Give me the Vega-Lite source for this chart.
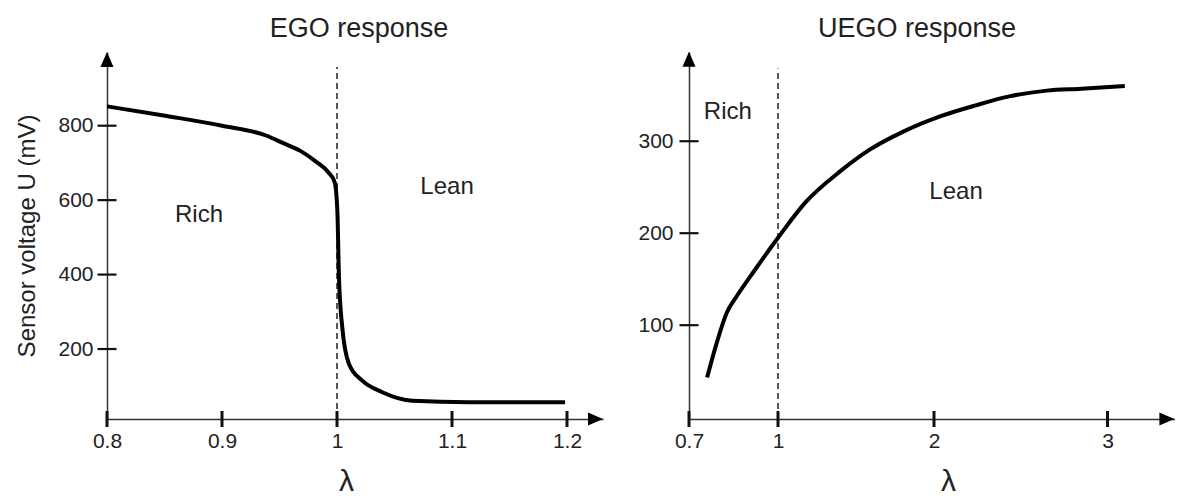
{
  "$schema": "https://vega.github.io/schema/vega-lite/v6.json",
  "background": "white",
  "padding": {"left": 15, "top": 14, "right": 0, "bottom": 0},
  "spacing": 33,
  "datasets": {
    "ego": [
      {"lam": 0.8, "u": 852},
      {"lam": 0.852, "u": 826},
      {"lam": 0.9, "u": 800},
      {"lam": 0.9389, "u": 773},
      {"lam": 0.9533, "u": 753},
      {"lam": 0.9678, "u": 733},
      {"lam": 0.9823, "u": 702},
      {"lam": 0.9924, "u": 675},
      {"lam": 0.998, "u": 648},
      {"lam": 1.0003, "u": 572},
      {"lam": 1.0017, "u": 393},
      {"lam": 1.0046, "u": 258},
      {"lam": 1.0104, "u": 160},
      {"lam": 1.022, "u": 115},
      {"lam": 1.0394, "u": 84},
      {"lam": 1.0655, "u": 61},
      {"lam": 1.1148, "u": 57},
      {"lam": 1.1983, "u": 57}
    ],
    "uego": [
      {"lam": 0.761, "u": 43},
      {"lam": 0.791, "u": 78},
      {"lam": 0.828, "u": 114},
      {"lam": 0.862, "u": 132},
      {"lam": 0.922, "u": 160},
      {"lam": 1.0, "u": 195},
      {"lam": 1.173, "u": 233},
      {"lam": 1.404, "u": 268},
      {"lam": 1.58, "u": 290},
      {"lam": 1.81, "u": 311},
      {"lam": 2.035, "u": 327},
      {"lam": 2.24, "u": 339},
      {"lam": 2.44, "u": 349},
      {"lam": 2.65, "u": 355},
      {"lam": 2.85, "u": 357},
      {"lam": 3.1, "u": 360}
    ]
  },
  "hconcat": [
    {
      "width": 496,
      "height": 367,
      "title": {"text": "EGO response", "dx": 4},
      "layer": [
        {
          "data": {"values": [{"lam": 1, "u": 12, "u2": 958}]},
          "mark": {"type": "rule", "strokeDash": [6, 4], "strokeWidth": 1.5, "color": "#222"},
          "encoding": {
            "x": {"field": "lam", "type": "quantitative"},
            "y": {"field": "u", "type": "quantitative"},
            "y2": {"field": "u2"}
          }
        },
        {
          "data": {"name": "ego"},
          "mark": {"type": "line", "interpolate": "monotone", "strokeWidth": 4, "color": "#000"},
          "encoding": {
            "x": {
              "field": "lam", "type": "quantitative", "title": "λ",
              "scale": {"domain": [0.8, 1.2313], "nice": false, "zero": false},
              "axis": {"values": [0.8, 0.9, 1, 1.1, 1.2], "format": "~f", "labelFontSize": 21, "titleX": 239}
            },
            "y": {
              "field": "u", "type": "quantitative", "title": "Sensor voltage U (mV)",
              "scale": {"domain": [12, 998], "nice": false, "zero": false},
              "axis": {"values": [200, 400, 600, 800], "format": "~f", "labelFontSize": 21}
            }
          }
        },
        {
          "data": {"values": [{"lam": 0.8}, {"lam": 0.9}, {"lam": 1}, {"lam": 1.1}, {"lam": 1.2}]},
          "mark": {"type": "tick", "orient": "vertical", "size": 16, "thickness": 3, "color": "#111", "opacity": 1},
          "encoding": {
            "x": {"field": "lam", "type": "quantitative"},
            "y": {"datum": 12, "type": "quantitative"}
          }
        },
        {
          "data": {"values": [{"u": 200}, {"u": 400}, {"u": 600}, {"u": 800}]},
          "mark": {"type": "tick", "orient": "horizontal", "size": 19, "thickness": 2.2, "color": "#111", "opacity": 1},
          "encoding": {
            "x": {"datum": 0.8, "type": "quantitative"},
            "y": {"field": "u", "type": "quantitative"}
          }
        },
        {
          "data": {"values": [{"lam": 0.8, "u": 978, "dir": "up"}, {"lam": 1.2248, "u": 12, "dir": "right"}]},
          "mark": {"type": "point", "filled": true, "size": 225, "color": "#000", "opacity": 1},
          "encoding": {
            "x": {"field": "lam", "type": "quantitative"},
            "y": {"field": "u", "type": "quantitative"},
            "shape": {"field": "dir", "type": "nominal", "legend": null,
              "scale": {"domain": ["up", "right"], "range": ["M0,-1L0.87,1L-0.87,1Z", "M1,0L-1,0.87L-1,-0.87Z"]}}
          }
        },
        {
          "data": {"values": [{"lam": 0.88, "u": 541, "label": "Rich"}, {"lam": 1.0957, "u": 616, "label": "Lean"}]},
          "mark": {"type": "text", "fontSize": 24, "align": "center", "baseline": "alphabetic", "color": "#222"},
          "encoding": {
            "x": {"field": "lam", "type": "quantitative"},
            "y": {"field": "u", "type": "quantitative"},
            "text": {"field": "label"}
          }
        }
      ]
    },
    {
      "width": 486,
      "height": 367,
      "title": {"text": "UEGO response", "dx": -15},
      "layer": [
        {
          "data": {"values": [{"lam": 1, "u": -2, "u2": 379}]},
          "mark": {"type": "rule", "strokeDash": [6, 4], "strokeWidth": 1.5, "color": "#222"},
          "encoding": {
            "x": {"field": "lam", "type": "quantitative"},
            "y": {"field": "u", "type": "quantitative"},
            "y2": {"field": "u2"}
          }
        },
        {
          "data": {"name": "uego"},
          "mark": {"type": "line", "interpolate": "monotone", "strokeWidth": 4, "color": "#000"},
          "encoding": {
            "x": {
              "field": "lam", "type": "quantitative", "title": "λ",
              "scale": {"domain": [0.7, 1, 2, 3, 3.39], "range": [0, 89, 245, 418.5, 486], "nice": false, "zero": false},
              "axis": {"values": [0.7, 1, 2, 3], "format": "~f", "labelFontSize": 21, "titleX": 259}
            },
            "y": {
              "field": "u", "type": "quantitative", "title": null,
              "scale": {"domain": [-2, 397], "nice": false, "zero": false},
              "axis": {"values": [100, 200, 300], "format": "~f", "labelPadding": 16, "labelFontSize": 21}
            }
          }
        },
        {
          "data": {"values": [{"lam": 0.7}, {"lam": 1}, {"lam": 2}, {"lam": 3}]},
          "mark": {"type": "tick", "orient": "vertical", "size": 16, "thickness": 3, "color": "#111", "opacity": 1},
          "encoding": {
            "x": {"field": "lam", "type": "quantitative"},
            "y": {"datum": -2, "type": "quantitative"}
          }
        },
        {
          "data": {"values": [{"u": 100}, {"u": 200}, {"u": 300}]},
          "mark": {"type": "tick", "orient": "horizontal", "size": 19, "thickness": 2.2, "color": "#111", "opacity": 1},
          "encoding": {
            "x": {"datum": 0.7, "type": "quantitative"},
            "y": {"field": "u", "type": "quantitative"}
          }
        },
        {
          "data": {"values": [{"lam": 0.7, "u": 389, "dir": "up"}, {"lam": 3.343, "u": -2, "dir": "right"}]},
          "mark": {"type": "point", "filled": true, "size": 225, "color": "#000", "opacity": 1},
          "encoding": {
            "x": {"field": "lam", "type": "quantitative"},
            "y": {"field": "u", "type": "quantitative"},
            "shape": {"field": "dir", "type": "nominal", "legend": null,
              "scale": {"domain": ["up", "right"], "range": ["M0,-1L0.87,1L-0.87,1Z", "M1,0L-1,0.87L-1,-0.87Z"]}}
          }
        },
        {
          "data": {"values": [{"lam": 0.831, "u": 324, "label": "Rich"}, {"lam": 2.127, "u": 237, "label": "Lean"}]},
          "mark": {"type": "text", "fontSize": 24, "align": "center", "baseline": "alphabetic", "color": "#222"},
          "encoding": {
            "x": {"field": "lam", "type": "quantitative"},
            "y": {"field": "u", "type": "quantitative"},
            "text": {"field": "label"}
          }
        }
      ]
    }
  ],
  "config": {
    "font": "Liberation Sans",
    "view": {"stroke": null},
    "title": {"fontSize": 27, "fontWeight": "normal", "color": "#222", "offset": 9},
    "axis": {
      "grid": false,
      "ticks": false,
      "domainColor": "#333",
      "domainWidth": 1.5,
      "labelFontSize": 21,
      "labelColor": "#222",
      "labelFlush": false,
      "labelOverlap": false,
      "titleFontSize": 24,
      "titleFontWeight": "normal",
      "titleColor": "#222"
    },
    "axisX": {"labelPadding": 11, "titleFontSize": 30, "titlePadding": 15},
    "axisY": {"labelPadding": 14, "titlePadding": 18}
  }
}
